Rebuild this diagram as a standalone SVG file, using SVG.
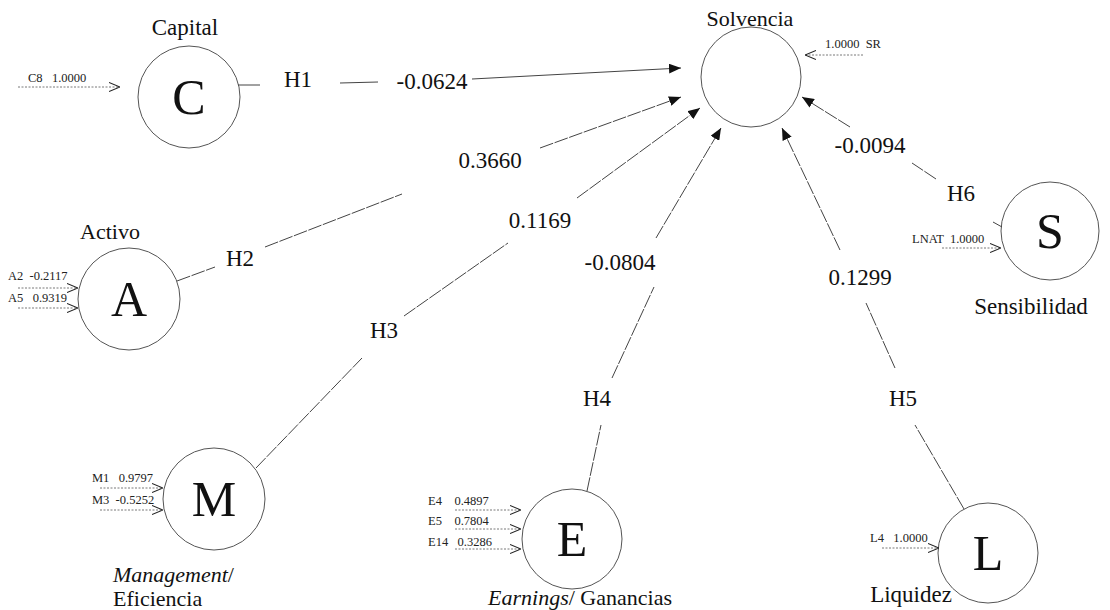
<svg xmlns="http://www.w3.org/2000/svg" width="1110" height="610" viewBox="0 0 1110 610">
<style>
.node circle{fill:none;stroke:#555;stroke-width:1}
.lt{font-family:"Liberation Serif","Times New Roman",serif;font-size:50px;fill:#111;text-anchor:middle}
.lbl{font-family:"Liberation Serif","Times New Roman",serif;font-size:23px;fill:#111}
.nm{font-size:22px}
.c{text-anchor:middle}
.sm{font-family:"Liberation Serif","Times New Roman",serif;font-size:12.5px;fill:#222}
.ind{stroke:#555;stroke-width:0.8;stroke-dasharray:2 1.5;fill:none}
.cn{stroke:#444;stroke-width:1;fill:none}
.d{stroke-dasharray:14 1.5}
</style>
<defs>
<marker id="tri" viewBox="0 0 12 10" refX="12" refY="5" markerWidth="12" markerHeight="10" markerUnits="userSpaceOnUse" orient="auto"><path d="M0,0 L12,5 L0,10 Z" fill="#111"/></marker>
<marker id="chev" viewBox="0 0 11 10" refX="11" refY="5" markerWidth="11" markerHeight="10" markerUnits="userSpaceOnUse" orient="auto"><path d="M0,0.5 L11,5 L0,9.5" fill="none" stroke="#222" stroke-width="1.1"/></marker>
</defs>
<rect width="1110" height="610" fill="#fff"/>

<g id="node-C" class="node">
<text class="lbl c" x="185" y="35" font-size="24">Capital</text>
<circle cx="189" cy="97" r="51"/>
<text class="lt" x="189" y="114">C</text>
<text class="sm" x="28" y="82" xml:space="preserve">C8   1.0000</text>
<line class="ind" x1="18" y1="87" x2="120" y2="87" marker-end="url(#chev)"/>
</g>

<g id="node-SR" class="node">
<text class="lbl nm c" x="750" y="26">Solvencia</text>
<circle cx="751" cy="77" r="50"/>
<text class="sm" x="825" y="48" xml:space="preserve">1.0000  SR</text>
<line class="ind" x1="863" y1="55" x2="805" y2="55" marker-end="url(#chev)"/>
</g>

<g id="node-A" class="node">
<text class="lbl nm c" x="110" y="239">Activo</text>
<circle cx="129" cy="299" r="51"/>
<text class="lt" x="129" y="316">A</text>
<text class="sm" x="8" y="280" xml:space="preserve">A2  -0.2117</text>
<line class="ind" x1="18" y1="288" x2="78" y2="288" marker-end="url(#chev)"/>
<text class="sm" x="8" y="302" xml:space="preserve">A5   0.9319</text>
<line class="ind" x1="18" y1="308" x2="78" y2="308" marker-end="url(#chev)"/>
</g>

<g id="node-M" class="node">
<circle cx="214" cy="499" r="51"/>
<text class="lt" x="214" y="516">M</text>
<text class="sm" x="92" y="482" xml:space="preserve">M1   0.9797</text>
<line class="ind" x1="100" y1="488" x2="163" y2="488" marker-end="url(#chev)"/>
<text class="sm" x="92" y="504" xml:space="preserve">M3  -0.5252</text>
<line class="ind" x1="100" y1="510" x2="163" y2="510" marker-end="url(#chev)"/>
<text class="lbl nm" x="113" y="582"><tspan font-style="italic">Management</tspan>/</text>
<text class="lbl nm" x="113" y="606">Eficiencia</text>
</g>

<g id="node-E" class="node">
<circle cx="572" cy="539" r="50"/>
<text class="lt" x="572" y="556">E</text>
<text class="sm" x="428" y="505" xml:space="preserve">E4    0.4897</text>
<line class="ind" x1="455" y1="510" x2="521" y2="510" marker-end="url(#chev)"/>
<text class="sm" x="428" y="525" xml:space="preserve">E5    0.7804</text>
<line class="ind" x1="455" y1="529" x2="521" y2="529" marker-end="url(#chev)"/>
<text class="sm" x="428" y="546" xml:space="preserve">E14   0.3286</text>
<line class="ind" x1="455" y1="549" x2="521" y2="549" marker-end="url(#chev)"/>
<text class="lbl nm c" x="580" y="605"><tspan font-style="italic">Earnings</tspan>/ Ganancias</text>
</g>

<g id="node-L" class="node">
<circle cx="988" cy="553" r="50"/>
<text class="lt" x="988" y="570">L</text>
<text class="sm" x="870" y="542" xml:space="preserve">L4   1.0000</text>
<line class="ind" x1="882" y1="548" x2="939" y2="548" marker-end="url(#chev)"/>
<text class="lbl c" x="911" y="602" font-size="24">Liquidez</text>
</g>

<g id="node-S" class="node">
<circle cx="1050" cy="231" r="49"/>
<text class="lt" x="1050" y="248">S</text>
<text class="sm" x="912" y="243" xml:space="preserve">LNAT  1.0000</text>
<line class="ind" x1="942" y1="248" x2="1001" y2="248" marker-end="url(#chev)"/>
<text class="lbl c" x="1031" y="314" font-size="24">Sensibilidad</text>
</g>

<g id="connectors">
<line class="cn" x1="238" y1="85" x2="260" y2="85"/>
<line class="cn" x1="340" y1="83" x2="378" y2="82"/>
<line class="cn" x1="472" y1="79" x2="681" y2="68" marker-end="url(#tri)"/>
<line class="cn d" x1="177" y1="281" x2="215" y2="267"/>
<line class="cn d" x1="265" y1="247" x2="402" y2="194"/>
<line class="cn d" x1="540" y1="148" x2="681" y2="97" marker-end="url(#tri)"/>
<line class="cn d" x1="256" y1="468" x2="362" y2="358"/>
<line class="cn d" x1="404" y1="316" x2="508" y2="243"/>
<line class="cn d" x1="577" y1="198" x2="700" y2="108" marker-end="url(#tri)"/>
<line class="cn d" x1="587" y1="491" x2="601" y2="425"/>
<line class="cn d" x1="612" y1="378" x2="654" y2="287"/>
<line class="cn d" x1="656" y1="238" x2="721" y2="128" marker-end="url(#tri)"/>
<line class="cn d" x1="964" y1="509" x2="915" y2="425"/>
<line class="cn d" x1="895" y1="368" x2="866" y2="303"/>
<line class="cn d" x1="840" y1="250" x2="782" y2="128" marker-end="url(#tri)"/>
<line class="cn" x1="1002" y1="227" x2="993" y2="222"/>
<line class="cn d" x1="936" y1="179" x2="912" y2="163"/>
<line class="cn d" x1="850" y1="127" x2="802" y2="97" marker-end="url(#tri)"/>
<text class="lbl c" x="298" y="87">H1</text>
<text class="lbl c" x="432" y="89">-0.0624</text>
<text class="lbl c" x="240" y="266">H2</text>
<text class="lbl c" x="490" y="168">0.3660</text>
<text class="lbl c" x="384" y="338">H3</text>
<text class="lbl c" x="540" y="228">0.1169</text>
<text class="lbl c" x="597" y="406">H4</text>
<text class="lbl c" x="620" y="270">-0.0804</text>
<text class="lbl c" x="903" y="406">H5</text>
<text class="lbl c" x="860" y="285">0.1299</text>
<text class="lbl c" x="961" y="201">H6</text>
<text class="lbl c" x="870" y="153">-0.0094</text>
</g>
</svg>
